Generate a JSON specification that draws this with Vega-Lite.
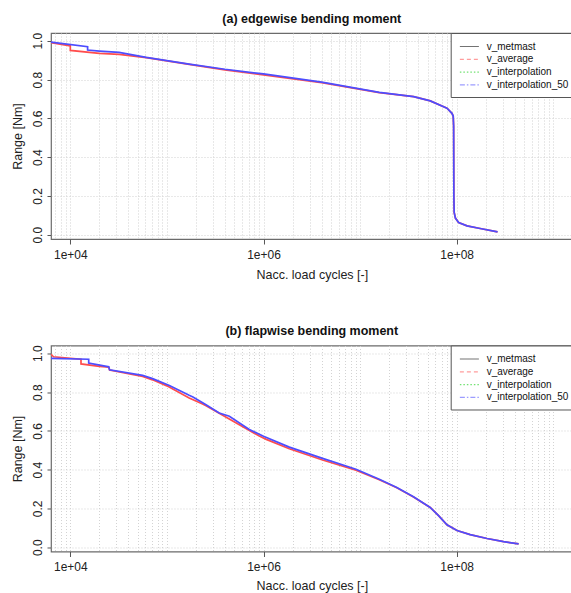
{
  "$schema": "https://vega.github.io/schema/vega-lite/v6.json",
  "padding": {"left": 11, "top": 12, "right": 0, "bottom": 0},
  "config": {
    "font": "Liberation Sans",
    "view": {"stroke": "#6b6b6b", "strokeWidth": 1.2},
    "title": {"fontSize": 12.5, "fontWeight": "bold", "color": "#111", "offset": 7},
    "axis": {
      "domain": false, "grid": true, "gridColor": "#d2d2d2", "gridDash": [1, 2], "gridWidth": 1,
      "tickColor": "#555", "labelFontSize": 12, "labelColor": "#222", "titleFontSize": 12.5,
      "titleFontWeight": "normal", "titleColor": "#222", "labelOverlap": false, "labelBound": false
    }
  },
  "resolve": {"legend": {"color": "independent"}},
  "spacing": 42.5,
  "data": {"values": [
    {"p": "a", "s": "v_average", "i": 1, "N": 6310, "v": 0.990},
    {"p": "a", "s": "v_average", "i": 2, "N": 10000, "v": 0.974},
    {"p": "a", "s": "v_average", "i": 3, "N": 10000, "v": 0.950},
    {"p": "a", "s": "v_average", "i": 4, "N": 20000, "v": 0.935},
    {"p": "a", "s": "v_average", "i": 5, "N": 32000, "v": 0.930},
    {"p": "a", "s": "v_average", "i": 6, "N": 61000, "v": 0.913},
    {"p": "a", "s": "v_average", "i": 7, "N": 170000, "v": 0.878},
    {"p": "a", "s": "v_average", "i": 8, "N": 398000, "v": 0.850},
    {"p": "a", "s": "v_average", "i": 9, "N": 1000000, "v": 0.824},
    {"p": "a", "s": "v_average", "i": 10, "N": 4000000, "v": 0.784},
    {"p": "a", "s": "v_average", "i": 11, "N": 15800000, "v": 0.733},
    {"p": "a", "s": "v_average", "i": 12, "N": 35800000, "v": 0.712},
    {"p": "a", "s": "v_average", "i": 13, "N": 53300000, "v": 0.690},
    {"p": "a", "s": "v_average", "i": 14, "N": 79400000, "v": 0.652},
    {"p": "a", "s": "v_average", "i": 15, "N": 89300000, "v": 0.626},
    {"p": "a", "s": "v_average", "i": 16, "N": 92000000, "v": 0.612},
    {"p": "a", "s": "v_average", "i": 17, "N": 93000000, "v": 0.560},
    {"p": "a", "s": "v_average", "i": 18, "N": 93500000, "v": 0.200},
    {"p": "a", "s": "v_average", "i": 19, "N": 94200000, "v": 0.115},
    {"p": "a", "s": "v_average", "i": 20, "N": 97000000, "v": 0.086},
    {"p": "a", "s": "v_average", "i": 21, "N": 104700000, "v": 0.063},
    {"p": "a", "s": "v_average", "i": 22, "N": 128000000, "v": 0.046},
    {"p": "a", "s": "v_average", "i": 23, "N": 175000000, "v": 0.032},
    {"p": "a", "s": "v_average", "i": 24, "N": 265000000, "v": 0.015},
    {"p": "a", "s": "v_interpolation_50", "i": 1, "N": 6310, "v": 0.993},
    {"p": "a", "s": "v_interpolation_50", "i": 2, "N": 15100, "v": 0.969},
    {"p": "a", "s": "v_interpolation_50", "i": 3, "N": 15100, "v": 0.952},
    {"p": "a", "s": "v_interpolation_50", "i": 4, "N": 20000, "v": 0.947},
    {"p": "a", "s": "v_interpolation_50", "i": 5, "N": 32000, "v": 0.940},
    {"p": "a", "s": "v_interpolation_50", "i": 6, "N": 61000, "v": 0.914},
    {"p": "a", "s": "v_interpolation_50", "i": 7, "N": 170000, "v": 0.880},
    {"p": "a", "s": "v_interpolation_50", "i": 8, "N": 398000, "v": 0.853},
    {"p": "a", "s": "v_interpolation_50", "i": 9, "N": 1000000, "v": 0.829},
    {"p": "a", "s": "v_interpolation_50", "i": 10, "N": 4000000, "v": 0.787},
    {"p": "a", "s": "v_interpolation_50", "i": 11, "N": 15800000, "v": 0.734},
    {"p": "a", "s": "v_interpolation_50", "i": 12, "N": 35800000, "v": 0.712},
    {"p": "a", "s": "v_interpolation_50", "i": 13, "N": 53300000, "v": 0.690},
    {"p": "a", "s": "v_interpolation_50", "i": 14, "N": 79400000, "v": 0.652},
    {"p": "a", "s": "v_interpolation_50", "i": 15, "N": 89300000, "v": 0.626},
    {"p": "a", "s": "v_interpolation_50", "i": 16, "N": 92000000, "v": 0.612},
    {"p": "a", "s": "v_interpolation_50", "i": 17, "N": 93000000, "v": 0.560},
    {"p": "a", "s": "v_interpolation_50", "i": 18, "N": 93500000, "v": 0.200},
    {"p": "a", "s": "v_interpolation_50", "i": 19, "N": 94200000, "v": 0.115},
    {"p": "a", "s": "v_interpolation_50", "i": 20, "N": 97000000, "v": 0.086},
    {"p": "a", "s": "v_interpolation_50", "i": 21, "N": 104700000, "v": 0.063},
    {"p": "a", "s": "v_interpolation_50", "i": 22, "N": 128000000, "v": 0.046},
    {"p": "a", "s": "v_interpolation_50", "i": 23, "N": 175000000, "v": 0.032},
    {"p": "a", "s": "v_interpolation_50", "i": 24, "N": 265000000, "v": 0.015},
    {"p": "b", "s": "v_average", "i": 1, "N": 6310, "v": 0.995},
    {"p": "b", "s": "v_average", "i": 2, "N": 6700, "v": 0.982},
    {"p": "b", "s": "v_average", "i": 3, "N": 12900, "v": 0.969},
    {"p": "b", "s": "v_average", "i": 4, "N": 12900, "v": 0.945},
    {"p": "b", "s": "v_average", "i": 5, "N": 20000, "v": 0.932},
    {"p": "b", "s": "v_average", "i": 6, "N": 25000, "v": 0.928},
    {"p": "b", "s": "v_average", "i": 7, "N": 25500, "v": 0.913},
    {"p": "b", "s": "v_average", "i": 8, "N": 56000, "v": 0.880},
    {"p": "b", "s": "v_average", "i": 9, "N": 71000, "v": 0.863},
    {"p": "b", "s": "v_average", "i": 10, "N": 100000, "v": 0.832},
    {"p": "b", "s": "v_average", "i": 11, "N": 170000, "v": 0.769},
    {"p": "b", "s": "v_average", "i": 12, "N": 234000, "v": 0.738},
    {"p": "b", "s": "v_average", "i": 13, "N": 257000, "v": 0.728},
    {"p": "b", "s": "v_average", "i": 14, "N": 378000, "v": 0.680},
    {"p": "b", "s": "v_average", "i": 15, "N": 562000, "v": 0.632},
    {"p": "b", "s": "v_average", "i": 16, "N": 904000, "v": 0.573},
    {"p": "b", "s": "v_average", "i": 17, "N": 1070000, "v": 0.556},
    {"p": "b", "s": "v_average", "i": 18, "N": 1850000, "v": 0.508},
    {"p": "b", "s": "v_average", "i": 19, "N": 4090000, "v": 0.450},
    {"p": "b", "s": "v_average", "i": 20, "N": 9060000, "v": 0.397},
    {"p": "b", "s": "v_average", "i": 21, "N": 15800000, "v": 0.348},
    {"p": "b", "s": "v_average", "i": 22, "N": 24000000, "v": 0.307},
    {"p": "b", "s": "v_average", "i": 23, "N": 35700000, "v": 0.259},
    {"p": "b", "s": "v_average", "i": 24, "N": 53200000, "v": 0.205},
    {"p": "b", "s": "v_average", "i": 25, "N": 64900000, "v": 0.163},
    {"p": "b", "s": "v_average", "i": 26, "N": 79300000, "v": 0.116},
    {"p": "b", "s": "v_average", "i": 27, "N": 100700000, "v": 0.086},
    {"p": "b", "s": "v_average", "i": 28, "N": 138000000, "v": 0.065},
    {"p": "b", "s": "v_average", "i": 29, "N": 206000000, "v": 0.045},
    {"p": "b", "s": "v_average", "i": 30, "N": 306000000, "v": 0.029},
    {"p": "b", "s": "v_average", "i": 31, "N": 438000000, "v": 0.017},
    {"p": "b", "s": "v_interpolation_50", "i": 1, "N": 6310, "v": 0.974},
    {"p": "b", "s": "v_interpolation_50", "i": 2, "N": 15500, "v": 0.969},
    {"p": "b", "s": "v_interpolation_50", "i": 3, "N": 15500, "v": 0.949},
    {"p": "b", "s": "v_interpolation_50", "i": 4, "N": 25000, "v": 0.930},
    {"p": "b", "s": "v_interpolation_50", "i": 5, "N": 25500, "v": 0.915},
    {"p": "b", "s": "v_interpolation_50", "i": 6, "N": 56000, "v": 0.886},
    {"p": "b", "s": "v_interpolation_50", "i": 7, "N": 71000, "v": 0.869},
    {"p": "b", "s": "v_interpolation_50", "i": 8, "N": 106000, "v": 0.834},
    {"p": "b", "s": "v_interpolation_50", "i": 9, "N": 170000, "v": 0.783},
    {"p": "b", "s": "v_interpolation_50", "i": 10, "N": 186000, "v": 0.775},
    {"p": "b", "s": "v_interpolation_50", "i": 11, "N": 254000, "v": 0.735},
    {"p": "b", "s": "v_interpolation_50", "i": 12, "N": 348000, "v": 0.692},
    {"p": "b", "s": "v_interpolation_50", "i": 13, "N": 443000, "v": 0.675},
    {"p": "b", "s": "v_interpolation_50", "i": 14, "N": 713000, "v": 0.607},
    {"p": "b", "s": "v_interpolation_50", "i": 15, "N": 1000000, "v": 0.572},
    {"p": "b", "s": "v_interpolation_50", "i": 16, "N": 1850000, "v": 0.516},
    {"p": "b", "s": "v_interpolation_50", "i": 17, "N": 4090000, "v": 0.458},
    {"p": "b", "s": "v_interpolation_50", "i": 18, "N": 9060000, "v": 0.402},
    {"p": "b", "s": "v_interpolation_50", "i": 19, "N": 15800000, "v": 0.350},
    {"p": "b", "s": "v_interpolation_50", "i": 20, "N": 24000000, "v": 0.308},
    {"p": "b", "s": "v_interpolation_50", "i": 21, "N": 35700000, "v": 0.260},
    {"p": "b", "s": "v_interpolation_50", "i": 22, "N": 53200000, "v": 0.205},
    {"p": "b", "s": "v_interpolation_50", "i": 23, "N": 64900000, "v": 0.163},
    {"p": "b", "s": "v_interpolation_50", "i": 24, "N": 79300000, "v": 0.116},
    {"p": "b", "s": "v_interpolation_50", "i": 25, "N": 100700000, "v": 0.086},
    {"p": "b", "s": "v_interpolation_50", "i": 26, "N": 138000000, "v": 0.065},
    {"p": "b", "s": "v_interpolation_50", "i": 27, "N": 206000000, "v": 0.045},
    {"p": "b", "s": "v_interpolation_50", "i": 28, "N": 306000000, "v": 0.029},
    {"p": "b", "s": "v_interpolation_50", "i": 29, "N": 438000000, "v": 0.017}
  ]},
  "vconcat": [
    {
      "title": {"text": "(a) edgewise bending moment"},
      "transform": [{"filter": "datum.p === 'a'"}],
      "width": 521.6,
      "height": 206,
      "mark": {"type": "line", "clip": true, "strokeWidth": 1.7},
      "encoding": {
        "x": {"field": "N", "type": "quantitative",
          "scale": {"type": "log", "domain": [6309.57, 1584893192], "nice": false},
          "axis": {"title": "Nacc. load cycles [-]", "tickSize": 5, "labelPadding": 5, "titlePadding": 8,
            "values": [7000, 8000, 9000, 10000, 20000, 30000, 40000, 50000, 60000, 70000, 80000, 90000, 100000, 200000, 300000, 400000, 500000, 600000, 700000, 800000, 900000, 1000000, 2000000, 3000000, 4000000, 5000000, 6000000, 7000000, 8000000, 9000000, 10000000, 20000000, 30000000, 40000000, 50000000, 60000000, 70000000, 80000000, 90000000, 100000000, 200000000, 300000000, 400000000, 500000000, 600000000, 700000000, 800000000, 900000000, 1000000000],
            "labelExpr": "datum.value === 10000 ? '1e+04' : datum.value === 1000000 ? '1e+06' : datum.value === 100000000 ? '1e+08' : ''",
            "tickOpacity": {"condition": {"test": "datum.value === 10000 || datum.value === 1000000 || datum.value === 100000000", "value": 1}, "value": 0}}},
        "y": {"field": "v", "type": "quantitative",
          "scale": {"domain": [-0.022, 1.04], "nice": false, "zero": false},
          "axis": {"title": "Range [Nm]", "values": [0, 0.2, 0.4, 0.6, 0.8, 1.0], "format": ".1f", "labelAngle": -90,
            "labelAlign": "center", "labelBaseline": "bottom", "tickSize": 4, "labelPadding": 2, "titlePadding": 7}},
        "color": {"field": "s", "type": "nominal",
          "scale": {"domain": ["v_metmast", "v_average", "v_interpolation", "v_interpolation_50"], "range": ["#000000", "#ff4d4d", "#00cc00", "#4d4dff"]},
          "legend": {"orient": "none", "legendX": 399.7, "legendY": 0, "title": null, "padding": 6.5,
            "strokeColor": "#555", "fillColor": "white", "symbolType": "M-0.72,0H2.45", "symbolSize": 144,
            "symbolStrokeWidth": 1.2, "symbolOpacity": 0.55, "labelFontSize": 10, "labelOffset": 15.5,
            "rowPadding": 0.8, "labelColor": "#111", "labelLimit": 200,
            "encode": {"symbols": {"update": {"fill": {"value": "transparent"},
              "strokeDash": {"signal": "datum.value === 'v_average' ? [4, 3] : datum.value === 'v_interpolation' ? [1.5, 2] : datum.value === 'v_interpolation_50' ? [5, 2, 1.5, 2] : [1, 0]"}}}}}},
        "order": {"field": "i", "type": "quantitative"}
      }
    },
    {
      "title": {"text": "(b) flapwise bending moment"},
      "transform": [{"filter": "datum.p === 'b'"}],
      "width": 521.6,
      "height": 206,
      "mark": {"type": "line", "clip": true, "strokeWidth": 1.7},
      "encoding": {
        "x": {"field": "N", "type": "quantitative",
          "scale": {"type": "log", "domain": [6309.57, 1584893192], "nice": false},
          "axis": {"title": "Nacc. load cycles [-]", "tickSize": 5, "labelPadding": 5, "titlePadding": 7,
            "values": [7000, 8000, 9000, 10000, 20000, 30000, 40000, 50000, 60000, 70000, 80000, 90000, 100000, 200000, 300000, 400000, 500000, 600000, 700000, 800000, 900000, 1000000, 2000000, 3000000, 4000000, 5000000, 6000000, 7000000, 8000000, 9000000, 10000000, 20000000, 30000000, 40000000, 50000000, 60000000, 70000000, 80000000, 90000000, 100000000, 200000000, 300000000, 400000000, 500000000, 600000000, 700000000, 800000000, 900000000, 1000000000],
            "labelExpr": "datum.value === 10000 ? '1e+04' : datum.value === 1000000 ? '1e+06' : datum.value === 100000000 ? '1e+08' : ''",
            "tickOpacity": {"condition": {"test": "datum.value === 10000 || datum.value === 1000000 || datum.value === 100000000", "value": 1}, "value": 0}}},
        "y": {"field": "v", "type": "quantitative",
          "scale": {"domain": [-0.022, 1.04], "nice": false, "zero": false},
          "axis": {"title": "Range [Nm]", "values": [0, 0.2, 0.4, 0.6, 0.8, 1.0], "format": ".1f", "labelAngle": -90,
            "labelAlign": "center", "labelBaseline": "bottom", "tickSize": 4, "labelPadding": 2, "titlePadding": 7}},
        "color": {"field": "s", "type": "nominal",
          "scale": {"domain": ["v_metmast", "v_average", "v_interpolation", "v_interpolation_50"], "range": ["#000000", "#ff4d4d", "#00cc00", "#4d4dff"]},
          "legend": {"orient": "none", "legendX": 399.7, "legendY": 0, "title": null, "padding": 6.5,
            "strokeColor": "#555", "fillColor": "white", "symbolType": "M-0.72,0H2.45", "symbolSize": 144,
            "symbolStrokeWidth": 1.2, "symbolOpacity": 0.55, "labelFontSize": 10, "labelOffset": 15.5,
            "rowPadding": 0.8, "labelColor": "#111", "labelLimit": 200,
            "encode": {"symbols": {"update": {"fill": {"value": "transparent"},
              "strokeDash": {"signal": "datum.value === 'v_average' ? [4, 3] : datum.value === 'v_interpolation' ? [1.5, 2] : datum.value === 'v_interpolation_50' ? [5, 2, 1.5, 2] : [1, 0]"}}}}}},
        "order": {"field": "i", "type": "quantitative"}
      }
    }
  ]
}
